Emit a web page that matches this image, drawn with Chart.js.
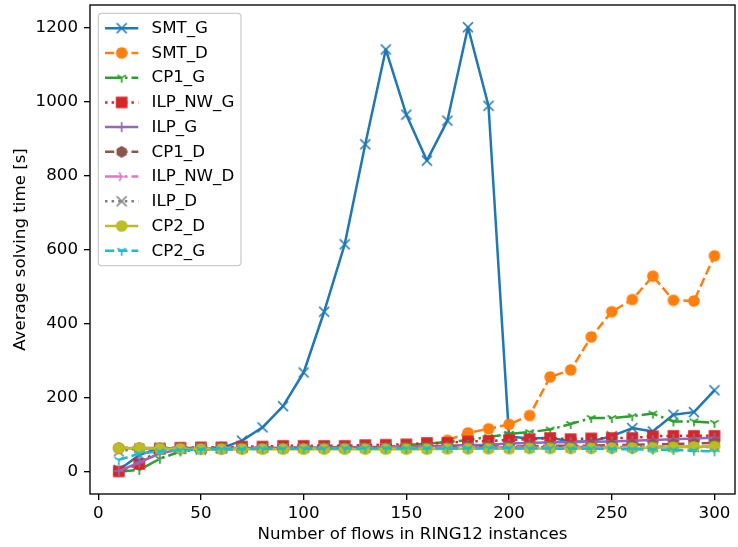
<!DOCTYPE html>
<html>
<head>
<meta charset="utf-8">
<script src="https://cdn.jsdelivr.net/npm/chart.js@4.4.1/dist/chart.umd.min.js"></script>
<style>
  html, body { margin: 0; padding: 0; background: #ffffff; }
  #c { display: block; }
</style>
</head>
<body>
<canvas id="c" width="738" height="547"></canvas>
<script>
// ---------------- DATA ----------------
const xValues = [10, 20, 30, 40, 50, 60, 70, 80, 90, 100, 110, 120, 130, 140, 150, 160, 170, 180, 190, 200, 210, 220, 230, 240, 250, 260, 270, 280, 290, 300];
const xTicks = [0, 50, 100, 150, 200, 250, 300];
const yTicks = [0, 200, 400, 600, 800, 1000, 1200];
const seriesNames = ['SMT_G', 'SMT_D', 'CP1_G', 'ILP_NW_G', 'ILP_G', 'CP1_D', 'ILP_NW_D', 'ILP_D', 'CP2_D', 'CP2_G'];

const SMT_G    = [5, 45, 65, 62, 60, 64, 84, 120, 177, 268, 432, 614, 884, 1140, 964, 840, 948, 1200, 988, 95, 90, 92, 82, 82, 96, 118, 109, 154, 161, 220];
const SMT_D    = [64, 64, 63, 63, 63, 63, 64, 64, 64, 64, 65, 65, 65, 66, 66, 67, 85, 105, 116, 128, 152, 256, 275, 364, 432, 465, 528, 463, 461, 583];
const CP1_G    = [0, 5, 35, 55, 60, 60, 62, 62, 62, 63, 63, 63, 64, 67, 72, 76, 80, 86, 94, 102, 107, 114, 129, 145, 145, 150, 157, 136, 136, 132];
const ILP_NW_G = [1, 21, 62, 65, 66, 66, 68, 68, 70, 70, 70, 70, 72, 73, 74, 78, 78, 82, 83, 86, 88, 91, 88, 90, 91, 91, 96, 97, 97, 97];
const ILP_G    = [2, 25, 50, 60, 62, 63, 64, 64, 65, 65, 66, 66, 67, 67, 68, 68, 70, 72, 73, 76, 78, 80, 80, 81, 82, 84, 86, 88, 90, 92];
const CP1_D    = [64, 64, 64, 64, 64, 65, 65, 65, 65, 65, 66, 66, 66, 66, 67, 67, 67, 68, 68, 68, 69, 70, 70, 71, 72, 73, 74, 75, 76, 78];
const ILP_NW_D = [63, 63, 63, 63, 63, 63, 64, 64, 64, 64, 64, 64, 65, 65, 65, 65, 66, 66, 66, 66, 66, 67, 67, 67, 67, 68, 68, 68, 68, 68];
const ILP_D    = [55, 63, 64, 64, 64, 64, 64, 64, 64, 64, 65, 65, 65, 65, 65, 65, 65, 66, 66, 66, 66, 66, 66, 67, 67, 67, 67, 67, 67, 67];
const CP2_D    = [64, 64, 63, 62, 61, 61, 61, 61, 61, 61, 61, 61, 61, 61, 61, 61, 62, 62, 62, 62, 63, 63, 63, 63, 64, 64, 65, 66, 67, 68];
const CP2_G    = [32, 49, 55, 58, 60, 61, 61, 62, 62, 62, 62, 63, 63, 63, 63, 63, 63, 63, 64, 64, 63, 63, 62, 62, 61, 61, 60, 59, 57, 55];

const seriesValues = [SMT_G, SMT_D, CP1_G, ILP_NW_G, ILP_G, CP1_D, ILP_NW_D, ILP_D, CP2_D, CP2_G];

// ---------------- STYLES ----------------
const colors = ['#1f77b4', '#ff7f0e', '#2ca02c', '#d62728', '#9467bd', '#8c564b', '#e377c2', '#7f7f7f', '#bcbd22', '#17becf'];
const markers = ['x', 'o', '1', 's', '+', 'h', '4', 'x', 'o', '1'];
const LW = 2.5;
const dashStyles = {
  solid: [],
  dashed: [9.25, 4],
  dashdot: [16, 4, 2.5, 4],
  dotted: [2.5, 4.1]
};
const lineStyles = ['solid', 'dashed', 'dashdot', 'dotted', 'solid', 'dashed', 'dashdot', 'dotted', 'solid', 'dashed'];
const FONT = '"DejaVu Sans", "Liberation Sans", sans-serif';
const FS = 16.67;

function makeMarker(kind, color) {
  const s = 18, m = s / 2, r = 5;
  const c = document.createElement('canvas');
  c.width = s; c.height = s;
  const g = c.getContext('2d');
  g.strokeStyle = color; g.fillStyle = color;
  g.lineWidth = 1.67; g.lineJoin = 'miter'; g.lineCap = 'butt';
  g.beginPath();
  if (kind === 'o') {
    g.arc(m, m, r, 0, Math.PI * 2); g.fill(); g.stroke();
  } else if (kind === 's') {
    g.rect(m - r, m - r, 2 * r, 2 * r); g.fill(); g.stroke();
  } else if (kind === 'h') {
    for (let k = 0; k < 6; k++) {
      const a = -Math.PI / 2 + k * Math.PI / 3;
      const px = m + r * Math.cos(a), py = m + r * Math.sin(a);
      if (k === 0) g.moveTo(px, py); else g.lineTo(px, py);
    }
    g.closePath(); g.fill(); g.stroke();
  } else if (kind === 'x') {
    g.moveTo(m - r, m - r); g.lineTo(m + r, m + r);
    g.moveTo(m - r, m + r); g.lineTo(m + r, m - r); g.stroke();
  } else if (kind === '+') {
    g.moveTo(m - r, m); g.lineTo(m + r, m);
    g.moveTo(m, m - r); g.lineTo(m, m + r); g.stroke();
  } else if (kind === '1') { // tri_down
    g.moveTo(m, m); g.lineTo(m, m + r);
    g.moveTo(m, m); g.lineTo(m + 0.866 * r, m - 0.5 * r);
    g.moveTo(m, m); g.lineTo(m - 0.866 * r, m - 0.5 * r); g.stroke();
  } else if (kind === '4') { // tri_right
    g.moveTo(m, m); g.lineTo(m + r, m);
    g.moveTo(m, m); g.lineTo(m - 0.5 * r, m - 0.866 * r);
    g.moveTo(m, m); g.lineTo(m - 0.5 * r, m + 0.866 * r); g.stroke();
  }
  return c;
}

const markerImgs = seriesNames.map((n, i) => makeMarker(markers[i], colors[i]));

const datasets = seriesNames.map((name, i) => ({
  label: name,
  data: xValues.map((x, j) => ({ x: x, y: seriesValues[i][j] })),
  borderColor: colors[i],
  backgroundColor: colors[i],
  borderWidth: LW,
  borderDash: dashStyles[lineStyles[i]],
  borderCapStyle: 'butt',
  borderJoinStyle: 'round',
  pointStyle: markerImgs[i],
  pointRadius: 5,
  pointHoverRadius: 5,
  tension: 0,
  fill: false,
  order: seriesNames.length - i,
  clip: false
}));

// ---------------- PLUGINS ----------------
const bgPlugin = {
  id: 'bg',
  beforeDraw(chart) {
    const ctx = chart.ctx;
    ctx.save(); ctx.fillStyle = '#ffffff';
    ctx.fillRect(0, 0, chart.width, chart.height); ctx.restore();
  }
};

const framePlugin = {
  id: 'frame',
  afterDatasetsDraw(chart) {
    const a = chart.chartArea, ctx = chart.ctx;
    ctx.save();
    ctx.strokeStyle = '#000000'; ctx.lineWidth = 1.33; ctx.setLineDash([]);
    ctx.strokeRect(a.left, a.top, a.right - a.left, a.bottom - a.top);
    ctx.restore();
  }
};

const legendPlugin = {
  id: 'mplLegend',
  afterDraw(chart) {
    const ctx = chart.ctx;
    const a = chart.chartArea;
    const x0 = a.left + 8.33, y0 = a.top + 8.33;
    const pad = 6.67, hl = 33.3, htp = 13.3, textH = 16.4, gap = 8.33;
    ctx.save();
    ctx.font = FS + 'px ' + FONT;
    let maxW = 0;
    seriesNames.forEach(n => { maxW = Math.max(maxW, ctx.measureText(n).width); });
    const w = pad * 2 + hl + htp + maxW;
    const h = pad * 2 + seriesNames.length * textH + (seriesNames.length - 1) * gap;
    ctx.beginPath();
    if (ctx.roundRect) ctx.roundRect(x0, y0, w, h, 3.3); else ctx.rect(x0, y0, w, h);
    ctx.fillStyle = 'rgba(255,255,255,0.8)';
    ctx.fill();
    ctx.strokeStyle = '#cccccc'; ctx.lineWidth = 1.3;
    ctx.stroke();
    seriesNames.forEach((n, i) => {
      const cy = y0 + pad + textH / 2 + i * (textH + gap);
      const lx0 = x0 + pad, lx1 = lx0 + hl;
      ctx.beginPath();
      ctx.setLineDash(dashStyles[lineStyles[i]]);
      ctx.lineCap = 'butt';
      ctx.strokeStyle = colors[i]; ctx.lineWidth = LW;
      ctx.moveTo(lx0, cy); ctx.lineTo(lx1, cy); ctx.stroke();
      ctx.setLineDash([]);
      const img = markerImgs[i];
      ctx.drawImage(img, (lx0 + lx1) / 2 - img.width / 2, cy - img.height / 2);
      ctx.fillStyle = '#000000';
      ctx.textBaseline = 'middle'; ctx.textAlign = 'left';
      ctx.fillText(n, lx1 + htp, cy + 0.5);
    });
    ctx.restore();
  }
};

function noEdgePadding(s) {
  s.paddingTop = 0; s.paddingBottom = 0; s.paddingLeft = 0; s.paddingRight = 0;
}

// ---------------- CHART ----------------
Chart.defaults.font.family = FONT;
Chart.defaults.font.size = FS;
Chart.defaults.color = '#000000';

new Chart(document.getElementById('c'), {
  type: 'line',
  data: { datasets: datasets },
  options: {
    responsive: false,
    animation: false,
    devicePixelRatio: 1,
    layout: { autoPadding: false, padding: { top: 5, right: 3, left: 0, bottom: 0 } },
    plugins: {
      legend: { display: false },
      tooltip: { enabled: false }
    },
    scales: {
      x: {
        type: 'linear',
        min: -4,
        max: 310,
        afterBuildTicks: (s) => { s.ticks = xTicks.map(v => ({ value: v })); },
        afterFit: (s) => { s.height = 53; noEdgePadding(s); },
        ticks: { callback: (v) => String(v), padding: 4, maxRotation: 0, autoSkip: false, font: { size: FS } },
        grid: { drawOnChartArea: false, drawTicks: true, tickLength: 6, color: '#000000', lineWidth: 1.33 },
        border: { display: false },
        title: { display: true, text: 'Number of flows in RING12 instances', font: { size: FS }, padding: { top: 0, bottom: 2 } }
      },
      y: {
        type: 'linear',
        min: -60,
        max: 1260,
        afterBuildTicks: (s) => { s.ticks = yTicks.map(v => ({ value: v })); },
        afterFit: (s) => { s.width = 90; noEdgePadding(s); },
        ticks: { callback: (v) => String(v), padding: 6, autoSkip: false, font: { size: FS } },
        grid: { drawOnChartArea: false, drawTicks: true, tickLength: 6, color: '#000000', lineWidth: 1.33 },
        border: { display: false },
        title: { display: true, text: 'Average solving time [s]', font: { size: FS }, padding: { top: 11, bottom: 0 } }
      }
    }
  },
  plugins: [bgPlugin, framePlugin, legendPlugin]
});
</script>
</body>
</html>
